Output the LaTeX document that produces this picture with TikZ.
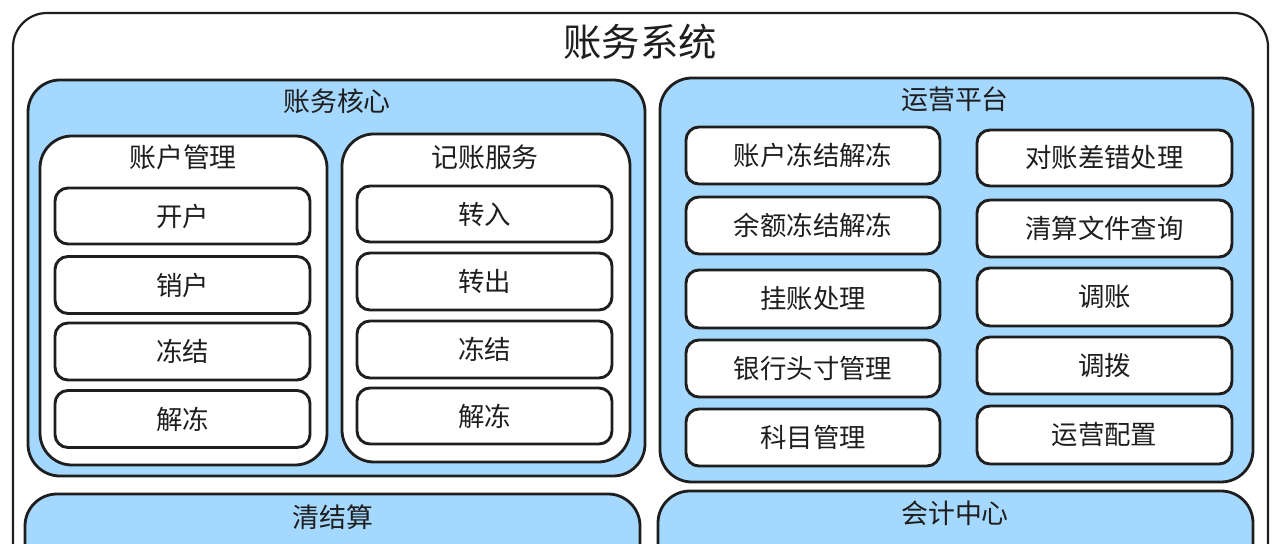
\documentclass[tikz,border=0pt]{standalone}
\usepackage{fontspec}
\setmainfont{Noto Sans CJK SC}
\definecolor{ink}{HTML}{1E1E1E}
\definecolor{sky}{HTML}{A5D8FF}
\begin{document}
\begin{tikzpicture}[x=1bp,y=-1bp,
  box/.style={draw=ink, inner sep=0pt, outer sep=0pt},
  outerbox/.style={box, line width=2.2bp, rounded corners=34bp, fill=white},
  bluebox/.style={box, line width=2.8bp, rounded corners=32bp, fill=sky},
  panelbox/.style={box, line width=2.8bp, rounded corners=32bp, fill=white},
  itembox/.style={box, line width=2.9bp, rounded corners=13bp, fill=white,
    text=ink, font=\fontsize{26.5}{31}\selectfont},
  ttl/.style={text=ink, inner sep=0pt, font=\fontsize{27}{32}\selectfont},
  bigttl/.style={text=ink, inner sep=0pt, font=\fontsize{38.5}{44}\selectfont}
]
\useasboundingbox (0,0) rectangle (1280,544);
\clip (0,0) rectangle (1280,544);
\fill[white] (0,0) rectangle (1280,544);

% outer system box
\node[outerbox, minimum width=1255bp, minimum height=600bp, anchor=north west] (sys) at (13,13) {};
\node[bigttl] (systitle) at (640,42) {账务系统};

% core
\node[bluebox, minimum width=617bp, minimum height=396bp] (core) at (336.5,278) {};
\node[ttl] (coretitle) at (337,101) {账务核心};

\node[panelbox, minimum width=287bp, minimum height=329bp] (acct) at (183.5,300.5) {};
\node[ttl] (accttitle) at (183,157) {账户管理};
\node[itembox, minimum width=255bp, minimum height=56bp] (a1) at (182.5,216) {开户};
\node[itembox, minimum width=255bp, minimum height=57bp] (a2) at (182.5,285) {销户};
\node[itembox, minimum width=255bp, minimum height=57bp] (a3) at (182.5,351.5) {冻结};
\node[itembox, minimum width=255bp, minimum height=57bp] (a4) at (182.5,419) {解冻};

\node[panelbox, minimum width=288bp, minimum height=328bp] (book) at (486,298) {};
\node[ttl] (booktitle) at (485,157) {记账服务};
\node[itembox, minimum width=255bp, minimum height=56bp] (b1) at (484.5,214) {转入};
\node[itembox, minimum width=255bp, minimum height=57bp] (b2) at (484.5,281.5) {转出};
\node[itembox, minimum width=255bp, minimum height=57bp] (b3) at (484.5,349.5) {冻结};
\node[itembox, minimum width=255bp, minimum height=56bp] (b4) at (484.5,416) {解冻};

% operations platform
\node[bluebox, minimum width=593bp, minimum height=404bp] (ops) at (956.5,280) {};
\node[ttl] (opstitle) at (955,99) {运营平台};
\node[itembox, minimum width=254bp, minimum height=57bp] (o1) at (813,155.5) {账户冻结解冻};
\node[itembox, minimum width=254bp, minimum height=57bp] (o2) at (813,225.5) {余额冻结解冻};
\node[itembox, minimum width=254bp, minimum height=58bp] (o3) at (813,299) {挂账处理};
\node[itembox, minimum width=254bp, minimum height=57bp] (o4) at (813,368.5) {银行头寸管理};
\node[itembox, minimum width=254bp, minimum height=57bp] (o5) at (813,437.5) {科目管理};
\node[itembox, minimum width=255bp, minimum height=56bp] (p1) at (1104.5,158) {对账差错处理};
\node[itembox, minimum width=255bp, minimum height=57bp] (p2) at (1104.5,228.5) {清算文件查询};
\node[itembox, minimum width=255bp, minimum height=58bp] (p3) at (1104.5,297) {调账};
\node[itembox, minimum width=255bp, minimum height=57bp] (p4) at (1104.5,365.5) {调拨};
\node[itembox, minimum width=255bp, minimum height=58bp] (p5) at (1104.5,435) {运营配置};

% bottom row (cut off)
\node[bluebox, minimum width=615bp, minimum height=140bp, anchor=north west] (settle) at (25,494) {};
\node[ttl] (settletitle) at (333,517) {清结算};
\node[bluebox, minimum width=595bp, minimum height=140bp, anchor=north west] (acc) at (658,491) {};
\node[ttl] (acctitle2) at (955,513) {会计中心};
\end{tikzpicture}
\end{document}
